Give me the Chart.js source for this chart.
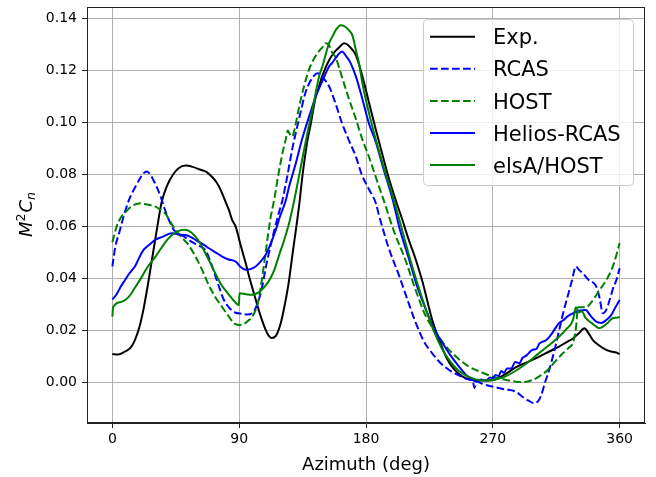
<!DOCTYPE html>
<html>
<head>
<meta charset="utf-8">
<script src="https://cdn.jsdelivr.net/npm/chart.js@4.4.1/dist/chart.umd.min.js"></script>
<style>
  html, body { margin: 0; padding: 0; background: #fff; }
  #wrap { width: 656px; height: 477px; position: relative; }
</style>
</head>
<body>
<div id="wrap"><canvas id="cnChart"></canvas></div>
<script>
const xTicks = [0, 90, 180, 270, 360];
const yTicks = [0, 0.02, 0.04, 0.06, 0.08, 0.10, 0.12, 0.14];

const seriesNames = ["Exp.", "RCAS", "HOST", "Helios-RCAS", "elsA/HOST"];

const expAz = [0,4,9,13,16,19,22,25,28,31,35,39,43,47,52,57,62,67,71,74,77,80,83,85,87.5,91,94.6,98,101.7,105,108.8,111,113,116,119.5,122,125,128,132.5,135,138.4,140.8,144.3,146.7,149,153.8,157.4,161,164.5,167,170.4,172.8,175,177.5,182,187,192,196,201,205,210,215.4,220,227,232,236.8,242,248.6,255.7,262,270,278,286.5,295,303,310,317,322,326.8,331,335,338,341,345,350.5,354,357.6,360];
const expVal = [0.011,0.0108,0.012,0.0135,0.0164,0.021,0.028,0.037,0.047,0.057,0.0695,0.076,0.080,0.0825,0.0835,0.083,0.082,0.081,0.079,0.077,0.074,0.070,0.066,0.0626,0.060,0.053,0.046,0.039,0.032,0.026,0.0203,0.018,0.0172,0.018,0.0229,0.029,0.038,0.050,0.068,0.080,0.093,0.0995,0.110,0.114,0.118,0.124,0.127,0.129,0.1306,0.130,0.128,0.126,0.1225,0.1178,0.108,0.0973,0.087,0.079,0.0703,0.064,0.0555,0.0472,0.039,0.0241,0.0165,0.010,0.0055,0.0023,0.001,0.0008,0.001,0.003,0.006,0.008,0.010,0.012,0.0139,0.0155,0.017,0.019,0.0209,0.019,0.0164,0.0145,0.0126,0.012,0.0116,0.011];

const rcasAz = [0,2,5,8,11.6,15,19,22,24.6,27,30,34,37,41,43.6,47,50,54,60,66,70,75.6,79,82.7,87,92,96,99,101,103,106,109,112,115,118,120.6,124,127.7,131,134,137,140,143,145.5,148,150,153.8,158,163,168,172.8,177,182,187,189.4,196,203.6,210,215.4,221,227,233,239,247,253,255.7,257,258.5,262,266,270,278,286.5,291,295,299.6,302,304,307,310,314,317,320,323,326,329,331,334,338,343.4,346,348,350.5,353,355,358,360];
const rcasVal = [0.0447,0.052,0.058,0.064,0.070,0.074,0.078,0.0805,0.0812,0.080,0.077,0.072,0.067,0.0615,0.0588,0.057,0.0565,0.055,0.053,0.051,0.046,0.037,0.032,0.029,0.027,0.0265,0.0262,0.0267,0.028,0.0305,0.036,0.0447,0.052,0.0588,0.065,0.070,0.079,0.090,0.098,0.105,0.1115,0.1155,0.118,0.119,0.1185,0.117,0.114,0.108,0.0998,0.093,0.087,0.080,0.0745,0.069,0.064,0.052,0.041,0.031,0.0229,0.016,0.0113,0.0075,0.0049,0.0025,0.0012,0.0008,-0.002,0.0005,-0.0003,-0.001,-0.0015,-0.0025,-0.0035,-0.0054,-0.0068,-0.0079,-0.0072,-0.0054,0.000,0.0049,0.013,0.020,0.027,0.033,0.039,0.0447,0.0435,0.042,0.0395,0.037,0.032,0.0267,0.028,0.032,0.0357,0.040,0.044];

const hostAz = [0,3,6,10,14,20,25,30.6,34,37.7,41,44.8,49,54,59,63.7,68,73,78,82.7,86,89.8,93,97,100,101.7,103.5,105,107,109,112,114.7,118,121,123,124.5,126,127.7,129.5,132.5,136,139.6,143,146.7,149,151.5,153.5,156,158.6,161,165,168,172.8,177.5,182,187,192.5,200,208,215,222.6,230,236.8,245,253,262,270,278,286.5,292,298,304,309,314,319.7,324,327,329,330.5,333,336,340,345.8,350,353,356,360];
const hostVal = [0.054,0.060,0.0635,0.066,0.068,0.069,0.0685,0.0677,0.0665,0.065,0.062,0.0588,0.056,0.053,0.0485,0.0434,0.038,0.033,0.029,0.0254,0.023,0.0222,0.0225,0.0241,0.026,0.028,0.031,0.0357,0.043,0.051,0.0626,0.070,0.0806,0.089,0.0934,0.097,0.0955,0.0947,0.098,0.106,0.114,0.1205,0.1245,0.1275,0.129,0.1306,0.130,0.127,0.125,0.121,0.114,0.109,0.1015,0.0934,0.087,0.079,0.0703,0.058,0.0472,0.036,0.0254,0.019,0.0139,0.0095,0.0062,0.004,0.0023,0.0012,0.0004,0.0003,0.001,0.0028,0.0049,0.008,0.0113,0.0135,0.0155,0.021,0.029,0.029,0.029,0.031,0.0357,0.039,0.042,0.046,0.0537];

const heliosAz = [0,3,6,9,12,16,19,22,26,30.6,35,42.4,47,52,57,61,65,68.5,72,75,78,82,87.5,91,94.6,98,101.7,105,108.8,112,116,119,123,125.4,130,134.8,140,144.3,149,153.8,156,160,163,166,169,172.8,177,182,187,192,199,204,210.7,216,222.6,228,234.4,240,246,251,255.7,258,262,265,268,270,272,274,276,278,280,283,286,289,291,294,298,301,303,308,312,315,317,320,323,326.8,330,333,336,339,343.4,347,350.5,354,357,360];
const heliosVal = [0.032,0.034,0.037,0.0395,0.042,0.0447,0.048,0.051,0.053,0.055,0.056,0.0575,0.057,0.0568,0.0556,0.0543,0.053,0.0517,0.0505,0.0495,0.0485,0.0475,0.0466,0.0445,0.0434,0.0437,0.0447,0.0465,0.0492,0.053,0.0588,0.064,0.070,0.0754,0.084,0.094,0.103,0.110,0.116,0.1216,0.123,0.126,0.1274,0.1255,0.123,0.1178,0.110,0.0998,0.0925,0.083,0.0703,0.059,0.0472,0.0375,0.028,0.021,0.0152,0.0105,0.0062,0.003,0.001,0.0005,0.0012,0.0008,0.002,0.0017,0.003,0.0025,0.0045,0.0038,0.0055,0.0055,0.008,0.0075,0.0095,0.0105,0.0126,0.013,0.015,0.0164,0.019,0.0215,0.0229,0.024,0.0255,0.0267,0.0275,0.0278,0.028,0.026,0.0235,0.023,0.0241,0.026,0.029,0.0318];

const elsaAz = [0,0.5,6,11.6,16,21,25,30.6,35,40,45,50.7,54,59,63,66,70,73,77,80,84,87,89.8,90.2,95,99,103,106,109,112,115,118,122,125.4,129,133,138.4,142,146.7,149,153.8,156,159,162,165,168,170.4,172.8,175,177.5,182,187,193,199,204,210,216,222,228,234,240,246,252,258,264,270,278,286,294,302,310,317,322,326.8,329,331,333,336,340,345.8,348,351.5,355,358,360];
const elsaVal = [0.0254,0.029,0.031,0.033,0.0365,0.0408,0.0445,0.0485,0.052,0.0556,0.0578,0.0588,0.0585,0.0562,0.053,0.0498,0.0455,0.0421,0.038,0.0357,0.033,0.031,0.0299,0.0344,0.034,0.0338,0.0345,0.0357,0.0375,0.040,0.0435,0.0485,0.055,0.0613,0.070,0.081,0.096,0.105,0.1178,0.1216,0.1306,0.133,0.136,0.1375,0.137,0.1355,0.1335,0.128,0.123,0.115,0.104,0.0934,0.082,0.0716,0.062,0.050,0.039,0.029,0.020,0.013,0.008,0.0045,0.0025,0.0012,0.0008,0.001,0.0022,0.0045,0.0075,0.011,0.0145,0.0177,0.0205,0.024,0.029,0.027,0.0275,0.0248,0.023,0.021,0.0215,0.023,0.0248,0.025,0.0254];

const DASH = [7.7, 3.3];
const FONT = "'DejaVu Sans', 'Liberation Sans', sans-serif";

const seriesStyles = [
  { color: "#000000", dash: [] },
  { color: "#0000ff", dash: DASH },
  { color: "#008000", dash: DASH },
  { color: "#0000ff", dash: [] },
  { color: "#008000", dash: [] }
];

const seriesData = [
  [expAz, expVal],
  [rcasAz, rcasVal],
  [hostAz, hostVal],
  [heliosAz, heliosVal],
  [elsaAz, elsaVal]
];

const datasets = seriesData.map(([az, val], i) => ({
  label: seriesNames[i],
  data: az.map((x, k) => ({ x: x, y: val[k] })),
  borderColor: seriesStyles[i].color,
  borderDash: seriesStyles[i].dash,
  borderWidth: 2,
  pointRadius: 0,
  showLine: true,
  fill: false,
  cubicInterpolationMode: "monotone",
  order: seriesNames.length - i
}));

// frame, y title and in-plot legend
const extras = {
  id: "extras",
  afterDraw(chart) {
    const ctx = chart.ctx;
    const a = chart.chartArea;
    ctx.save();
    ctx.strokeStyle = "#222";
    ctx.lineWidth = 1;
    ctx.strokeRect(a.left + 0.5, a.top + 0.5, a.right - a.left - 1, a.bottom - a.top - 1);

    // y axis title  M^2 C_n
    ctx.translate(26, (a.top + a.bottom) / 2);
    ctx.rotate(-Math.PI / 2);
    ctx.fillStyle = "#000";
    ctx.textBaseline = "alphabetic";
    const big = "italic 18px " + FONT;
    const small = "12.5px " + FONT;
    const smallIt = "italic 12.5px " + FONT;
    const parts = [
      { t: "M", f: big, dy: 0 },
      { t: "2", f: small, dy: -7 },
      { t: "C", f: big, dy: 0 },
      { t: "n", f: smallIt, dy: 3 }
    ];
    let total = 0;
    parts.forEach(p => { ctx.font = p.f; p.w = ctx.measureText(p.t).width; total += p.w; });
    let x = -total / 2;
    parts.forEach(p => { ctx.font = p.f; ctx.fillText(p.t, x, 6 + p.dy); x += p.w + (p.t === "2" ? 1 : 0); });
    ctx.restore();

    // legend
    ctx.save();
    const bx = 423, by = 19, bw = 210, bh = 166;
    ctx.beginPath();
    ctx.roundRect(bx + 0.5, by + 0.5, bw, bh, 4);
    ctx.fillStyle = "rgba(255,255,255,0.8)";
    ctx.fill();
    ctx.strokeStyle = "#cccccc";
    ctx.lineWidth = 1;
    ctx.stroke();
    ctx.font = "21px " + FONT;
    ctx.textBaseline = "alphabetic";
    seriesNames.forEach((name, i) => {
      const cy = 36.7 + i * 32.1;
      ctx.beginPath();
      ctx.setLineDash(seriesStyles[i].dash);
      ctx.strokeStyle = seriesStyles[i].color;
      ctx.lineWidth = 2;
      ctx.moveTo(430, cy);
      ctx.lineTo(475, cy);
      ctx.stroke();
      ctx.setLineDash([]);
      ctx.fillStyle = "#000";
      ctx.fillText(name, 493, cy + 7.6);
    });
    ctx.restore();
  }
};

new Chart(document.getElementById("cnChart").getContext("2d"), {
  type: "scatter",
  data: { datasets: datasets },
  options: {
    responsive: true,
    maintainAspectRatio: false,
    animation: false,
    layout: { padding: { top: 7, right: 11, left: 0, bottom: 0 } },
    plugins: {
      legend: { display: false },
      tooltip: { enabled: false }
    },
    scales: {
      x: {
        type: "linear",
        min: -18,
        max: 378,
        afterBuildTicks: s => { s.ticks = xTicks.map(v => ({ value: v })); },
        afterFit: s => { s.height = 54; s.paddingLeft = 0; s.paddingRight = 0; },
        grid: { color: "#b0b0b0", lineWidth: 1, drawTicks: true, tickLength: 5, tickColor: "#222" },
        border: { display: true, color: "#222", width: 1 },
        ticks: { color: "#000", font: { family: FONT, size: 14 }, padding: 3, maxRotation: 0 },
        title: { display: true, text: "Azimuth (deg)", color: "#000", font: { family: FONT, size: 18 }, padding: { top: 0, bottom: 1 } }
      },
      y: {
        type: "linear",
        min: -0.0155,
        max: 0.1445,
        afterBuildTicks: s => { s.ticks = yTicks.map(v => ({ value: v })); },
        afterFit: s => { s.width = 87; s.paddingTop = 0; s.paddingBottom = 0; },
        grid: { color: "#b0b0b0", lineWidth: 1, drawTicks: true, tickLength: 5, tickColor: "#222" },
        border: { display: true, color: "#222", width: 1 },
        ticks: { color: "#000", font: { family: FONT, size: 14 }, padding: 5, callback: v => v.toFixed(2) }
      }
    }
  },
  plugins: [extras]
});
</script>
</body>
</html>
